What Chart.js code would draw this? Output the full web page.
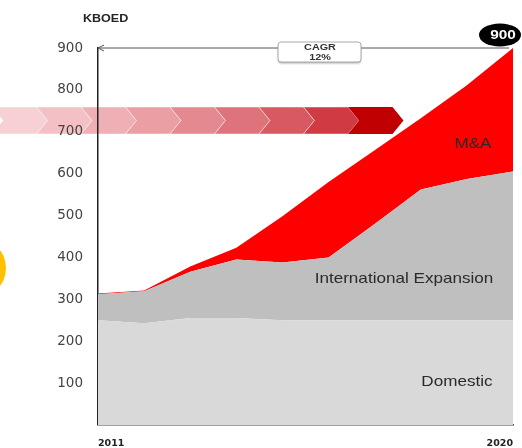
<!DOCTYPE html>
<html>
<head>
<meta charset="utf-8">
<script src="https://cdn.jsdelivr.net/npm/chart.js@4/dist/chart.umd.min.js"></script>
<style>
    html, body { margin: 0; padding: 0; background: #fff; }
    #contenedor { width: 522px; height: 448px; }
</style>
</head>
<body>
<div id="contenedor"><canvas id="grafica" width="522" height="448"></canvas></div>
<script>
const anios = ["2011", "2012", "2013", "2014", "2015", "2016", "2017", "2018", "2019", "2020"];
const domestico = [250, 243, 255, 255, 250, 250, 250, 250, 250, 250];
const internacional = [62, 76, 111, 140, 138, 150, 230, 312, 337, 355];
const fusiones = [2, 2, 12, 28, 110, 180, 176, 170, 224, 295];
const etiquetasY = [100, 200, 300, 400, 500, 600, 700, 800, 900];

const fuente = "Arial, 'Liberation Sans', sans-serif";
const fuenteAncha = "'DejaVu Sans', sans-serif";
const estirado = 1.14;

// el texto original esta algo estirado en horizontal
function textoEstirado(ctx, texto, x, y) {
    ctx.save();
    ctx.translate(x, y);
    ctx.scale(estirado, 1);
    ctx.fillText(texto, 0, 0);
    ctx.restore();
}

// Flecha de chevrones y circulo amarillo, por debajo de los ejes
const fondo = {
    id: "fondo",
    beforeDraw(chart) {
        const ctx = chart.ctx;
        ctx.save();

        ctx.fillStyle = "#ffc000";
        ctx.beginPath();
        ctx.arc(-24, 268, 30, 0, Math.PI * 2);
        ctx.fill();

        const colores = ["#f6d0d3", "#f3c1c5", "#efb0b5", "#eb9ea4", "#e58990", "#df737b", "#d85961", "#cf3a43", "#c00000"];
        const arriba = 107, abajo = 134, medio = (arriba + abajo) / 2;
        const ancho = 44.5, punta = 11;
        for (let i = 0; i < colores.length; i++) {
            const x0 = -8 + i * ancho;
            const x1 = x0 + ancho;
            ctx.fillStyle = colores[i];
            ctx.beginPath();
            ctx.moveTo(x0, arriba);
            ctx.lineTo(x1, arriba);
            ctx.lineTo(x1 + punta, medio);
            ctx.lineTo(x1, abajo);
            ctx.lineTo(x0, abajo);
            ctx.lineTo(x0 + punta, medio);
            ctx.closePath();
            ctx.fill();
            if (i < colores.length - 1) {
                ctx.strokeStyle = "rgba(255,255,255,0.45)";
                ctx.lineWidth = 1;
                ctx.stroke();
            }
        }
        ctx.restore();
    }
};

// Textos, flecha CAGR y globo del 900
const anotaciones = {
    id: "anotaciones",
    afterDraw(chart) {
        const ctx = chart.ctx;
        const { x, y } = chart.scales;
        ctx.save();

        ctx.fillStyle = "#222";
        ctx.font = "bold 11px " + fuente;
        ctx.textAlign = "left";
        ctx.textBaseline = "middle";
        textoEstirado(ctx, "KBOED", 83, 19);

        // linea CAGR
        const yLinea = y.getPixelForValue(900);
        ctx.strokeStyle = "#555";
        ctx.lineWidth = 1;
        ctx.beginPath();
        ctx.moveTo(x.left, yLinea);
        ctx.lineTo(x.right - 4, yLinea);
        ctx.stroke();
        ctx.beginPath();
        ctx.moveTo(x.left + 6, yLinea - 3);
        ctx.lineTo(x.left, yLinea);
        ctx.lineTo(x.left + 6, yLinea + 3);
        ctx.stroke();

        ctx.shadowColor = "rgba(0,0,0,0.3)";
        ctx.shadowOffsetY = 1.5;
        ctx.shadowBlur = 2;
        ctx.fillStyle = "#fff";
        ctx.strokeStyle = "#aaa";
        ctx.beginPath();
        ctx.roundRect(278, 42, 83, 20, 3);
        ctx.fill();
        ctx.shadowColor = "transparent";
        ctx.stroke();
        ctx.fillStyle = "#333";
        ctx.font = "bold 9.5px " + fuente;
        ctx.textAlign = "center";
        textoEstirado(ctx, "CAGR", 320, 47.5);
        textoEstirado(ctx, "12%", 320, 57);

        // globo 900
        ctx.fillStyle = "#000";
        ctx.beginPath();
        ctx.ellipse(500, 35, 21, 11.5, 0, 0, Math.PI * 2);
        ctx.fill();
        ctx.fillStyle = "#fff";
        ctx.font = "bold 13.5px " + fuente;
        textoEstirado(ctx, "900", 503, 35.5);

        // etiquetas de las areas
        ctx.fillStyle = "#2a2a2a";
        ctx.font = "15px " + fuente;
        textoEstirado(ctx, "M&A", 473, y.getPixelForValue(672));
        textoEstirado(ctx, "International Expansion", 404, y.getPixelForValue(349));
        textoEstirado(ctx, "Domestic", 457, y.getPixelForValue(102));

        ctx.restore();
    }
};

const ctx = document.getElementById("grafica");
const grafica = new Chart(ctx, {
    type: "line",
    data: {
        labels: anios,
        datasets: [
            {
                label: "Domestic",
                data: domestico,
                backgroundColor: "#d9d9d9",
                fill: "origin"
            },
            {
                label: "International Expansion",
                data: internacional,
                backgroundColor: "#bfbfbf",
                fill: "-1"
            },
            {
                label: "M&A",
                data: fusiones,
                backgroundColor: "#ff0000",
                fill: "-1"
            }
        ]
    },
    options: {
        responsive: false,
        animation: false,
        elements: {
            line: { borderWidth: 0, tension: 0 },
            point: { radius: 0, hoverRadius: 0, borderWidth: 0 }
        },
        layout: {
            autoPadding: false,
            padding: { left: 0, top: 48, right: 9, bottom: 0 }
        },
        plugins: {
            legend: { display: false },
            tooltip: { enabled: false }
        },
        scales: {
            x: {
                offset: false,
                grid: { color: "transparent", drawTicks: false },
                border: { color: "#444", width: 1.5 },
                afterFit(scale) {
                    scale.height = 21;
                    scale.paddingLeft = 0;
                    scale.paddingRight = 0;
                },
                ticks: {
                    autoSkip: false,
                    maxRotation: 0,
                    align: "inner",
                    padding: 13,
                    color: "#222",
                    font: { family: fuenteAncha, size: 9.5, weight: "bold" },
                    callback(valor, indice) {
                        return (indice === 0 || indice === anios.length - 1) ? anios[indice] : "";
                    }
                }
            },
            y: {
                stacked: true,
                min: 0,
                max: 900,
                grid: { color: "transparent", drawTicks: false },
                border: { color: "#222", width: 1.5 },
                afterFit(scale) { scale.width = 98; },
                afterBuildTicks(scale) {
                    scale.ticks = etiquetasY.map((v) => ({ value: v }));
                },
                ticks: {
                    padding: 15,
                    color: "#444",
                    font: { family: fuenteAncha, size: 13.5 }
                }
            }
        }
    },
    plugins: [fondo, anotaciones]
});
</script>
</body>
</html>
